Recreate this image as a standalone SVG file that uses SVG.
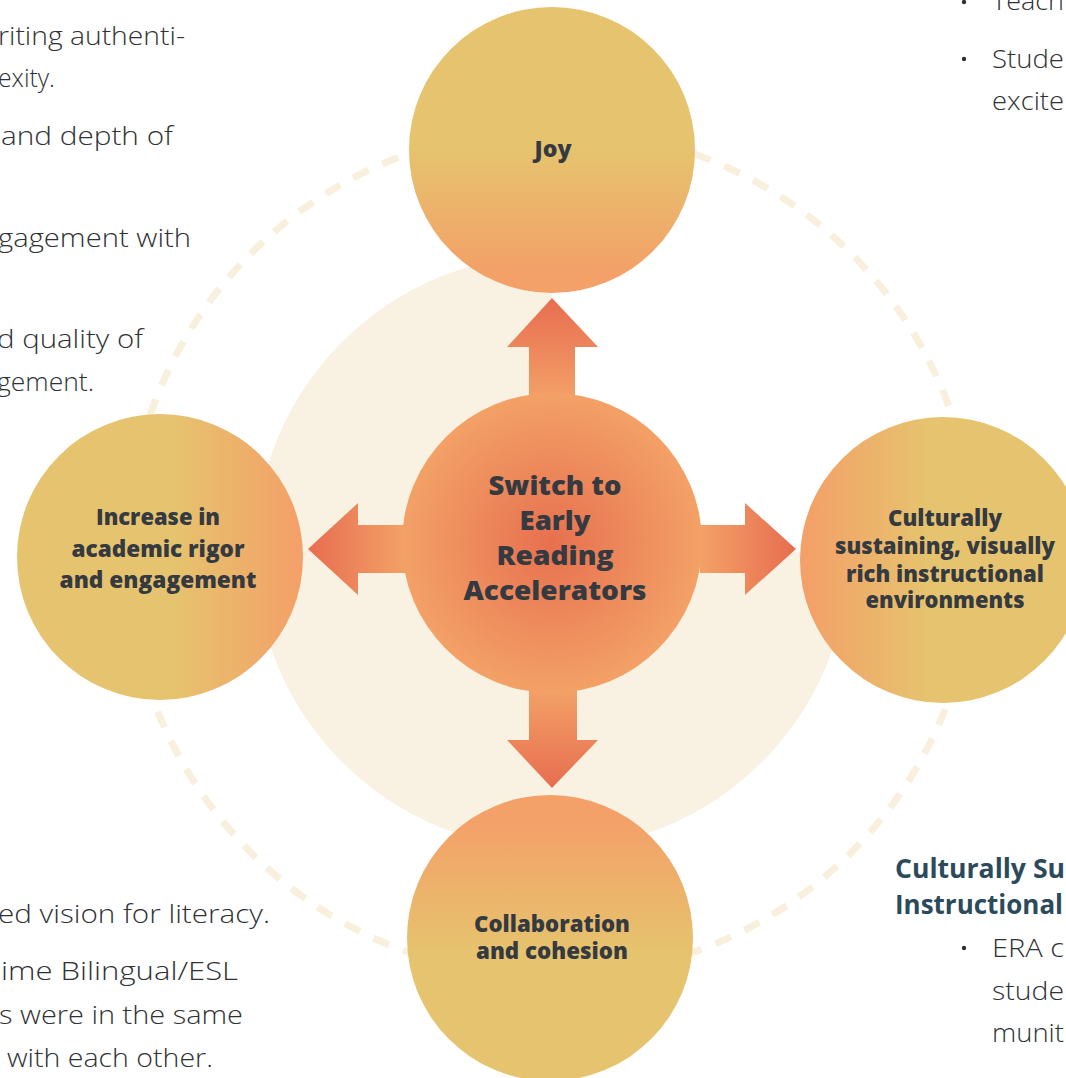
<svg xmlns="http://www.w3.org/2000/svg" width="1066" height="1078" viewBox="0 0 1066 1078">
<style>
.body{font-family:"Open Sans","Liberation Sans",sans-serif;font-weight:300;font-size:26px;fill:#2f3235}
.lbl{font-family:"Open Sans","Liberation Sans",sans-serif;font-weight:800;fill:#353a40;text-anchor:middle}
.head{font-family:"Open Sans","Liberation Sans",sans-serif;font-weight:700;font-size:26px;fill:#2b4a5b}
.bullet{fill:#2f3235}
</style>
<defs>
<linearGradient id="gJoy" x1="0" y1="0" x2="0" y2="1"><stop offset="0.5" stop-color="#e6c36e"/><stop offset="0.92" stop-color="#f3a168"/></linearGradient>
<linearGradient id="gBot" x1="0" y1="0" x2="0" y2="1"><stop offset="0.1" stop-color="#f3a168"/><stop offset="0.55" stop-color="#e6c36e"/></linearGradient>
<linearGradient id="gLeft" x1="0" y1="0" x2="1" y2="0"><stop offset="0.55" stop-color="#e6c36e"/><stop offset="0.98" stop-color="#f3a168"/></linearGradient>
<linearGradient id="gRight" x1="0" y1="0" x2="1" y2="0"><stop offset="0.03" stop-color="#f3a168"/><stop offset="0.45" stop-color="#e6c36e"/></linearGradient>
<radialGradient id="gCenter" cx="0.5" cy="0.5" r="0.5"><stop offset="0" stop-color="#e7704f"/><stop offset="1" stop-color="#f3a167"/></radialGradient>
<linearGradient id="aUp" gradientUnits="userSpaceOnUse" x1="0" y1="400" x2="0" y2="298"><stop offset="0" stop-color="#f3a167"/><stop offset="1" stop-color="#e76d50"/></linearGradient>
<linearGradient id="aDown" gradientUnits="userSpaceOnUse" x1="0" y1="690" x2="0" y2="788"><stop offset="0" stop-color="#f3a167"/><stop offset="1" stop-color="#e76d50"/></linearGradient>
<linearGradient id="aLeft" gradientUnits="userSpaceOnUse" x1="405" y1="0" x2="308" y2="0"><stop offset="0" stop-color="#f3a167"/><stop offset="1" stop-color="#e76d50"/></linearGradient>
<linearGradient id="aRight" gradientUnits="userSpaceOnUse" x1="700" y1="0" x2="796" y2="0"><stop offset="0" stop-color="#f3a167"/><stop offset="1" stop-color="#e76d50"/></linearGradient>
</defs>
<rect width="1066" height="1078" fill="#ffffff"/>

<g id="page-text">
<text class="body" x="-2" y="45" textLength="187" lengthAdjust="spacingAndGlyphs">riting authenti-</text>
<text class="body" x="-2" y="87" textLength="57" lengthAdjust="spacingAndGlyphs">exity.</text>
<text class="body" x="1" y="145" textLength="172" lengthAdjust="spacingAndGlyphs">and depth of</text>
<text class="body" x="-2" y="247" textLength="193" lengthAdjust="spacingAndGlyphs">gagement with</text>
<text class="body" x="-3" y="348" textLength="146" lengthAdjust="spacingAndGlyphs">d quality of</text>
<text class="body" x="-3" y="391" textLength="97" lengthAdjust="spacingAndGlyphs">gement.</text>
<text class="body" x="-2" y="923" textLength="272" lengthAdjust="spacingAndGlyphs">ed vision for literacy.</text>
<text class="body" x="1" y="980" textLength="237" lengthAdjust="spacingAndGlyphs">ime Bilingual/ESL</text>
<text class="body" x="-1" y="1024" textLength="244" lengthAdjust="spacingAndGlyphs">s were in the same</text>
<text class="body" x="7" y="1067" textLength="206" lengthAdjust="spacingAndGlyphs">with each other.</text>
<circle class="bullet" cx="964" cy="2" r="2.2"/>
<text class="body" x="992" y="10" textLength="72" lengthAdjust="spacingAndGlyphs">Teach</text>
<circle class="bullet" cx="964" cy="59" r="2.2"/>
<text class="body" x="992" y="68" textLength="72" lengthAdjust="spacingAndGlyphs">Stude</text>
<text class="body" x="992" y="110" textLength="72" lengthAdjust="spacingAndGlyphs">excite</text>
<text class="head" x="895" y="878" textLength="170" lengthAdjust="spacingAndGlyphs">Culturally Su</text>
<text class="head" x="895" y="914" textLength="168" lengthAdjust="spacingAndGlyphs">Instructional</text>
<circle class="bullet" cx="964" cy="948" r="2.2"/>
<text class="body" x="992" y="957" textLength="72" lengthAdjust="spacingAndGlyphs">ERA c</text>
<text class="body" x="992" y="1000" textLength="72" lengthAdjust="spacingAndGlyphs">stude</text>
<text class="body" x="992" y="1042" textLength="72" lengthAdjust="spacingAndGlyphs">munit</text>
</g>

<g id="backdrop">
<circle cx="551" cy="553" r="424" fill="none" stroke="#f8f0dc" stroke-width="7" stroke-dasharray="17 15"/>
<path d="M552,552 L552,255 A297,297 0 1 0 849,552 Z" fill="#f9f2e2"/>
</g>

<g id="connectors">
<path d="M529,400 L529,347 L507,347 L552,298 L598,347 L575,347 L575,400 Z" fill="url(#aUp)"/>
<path d="M529,690 L529,740 L507,740 L552,788 L598,740 L577,740 L577,690 Z" fill="url(#aDown)"/>
<path d="M405,525 L358,525 L358,503 L308,549 L358,595 L358,573 L405,573 Z" fill="url(#aLeft)"/>
<path d="M700,525 L745,525 L745,503 L796,549 L745,595 L745,573 L700,573 Z" fill="url(#aRight)"/>
</g>

<g id="node-center">
<circle cx="552" cy="543" r="150" fill="url(#gCenter)"/>
<text class="lbl" font-size="26" x="555" y="495" textLength="133" lengthAdjust="spacingAndGlyphs">Switch to</text>
<text class="lbl" font-size="26" x="555" y="530" textLength="71" lengthAdjust="spacingAndGlyphs">Early</text>
<text class="lbl" font-size="26" x="555" y="565" textLength="117" lengthAdjust="spacingAndGlyphs">Reading</text>
<text class="lbl" font-size="26" x="555" y="600" textLength="183" lengthAdjust="spacingAndGlyphs">Accelerators</text>
</g>

<g id="node-joy">
<circle cx="552" cy="150" r="143" fill="url(#gJoy)"/>
<text class="lbl" font-size="22" x="553" y="157" textLength="37" lengthAdjust="spacingAndGlyphs">Joy</text>
</g>

<g id="node-rigor">
<circle cx="160" cy="557" r="143" fill="url(#gLeft)"/>
<text class="lbl" font-size="23" x="158" y="525" textLength="124" lengthAdjust="spacingAndGlyphs">Increase in</text>
<text class="lbl" font-size="23" x="158" y="557" textLength="173" lengthAdjust="spacingAndGlyphs">academic rigor</text>
<text class="lbl" font-size="23" x="158" y="588" textLength="197" lengthAdjust="spacingAndGlyphs">and engagement</text>
</g>

<g id="node-culture">
<circle cx="943" cy="560" r="143" fill="url(#gRight)"/>
<text class="lbl" font-size="22" x="945" y="526" textLength="114" lengthAdjust="spacingAndGlyphs">Culturally</text>
<text class="lbl" font-size="22" x="945" y="554" textLength="220" lengthAdjust="spacingAndGlyphs">sustaining, visually</text>
<text class="lbl" font-size="22" x="945" y="582" textLength="198" lengthAdjust="spacingAndGlyphs">rich instructional</text>
<text class="lbl" font-size="22" x="945" y="608" textLength="159" lengthAdjust="spacingAndGlyphs">environments</text>
</g>

<g id="node-collab">
<circle cx="550" cy="938" r="143" fill="url(#gBot)"/>
<text class="lbl" font-size="22" x="552" y="932" textLength="156" lengthAdjust="spacingAndGlyphs">Collaboration</text>
<text class="lbl" font-size="22" x="552" y="959" textLength="152" lengthAdjust="spacingAndGlyphs">and cohesion</text>
</g>
</svg>
